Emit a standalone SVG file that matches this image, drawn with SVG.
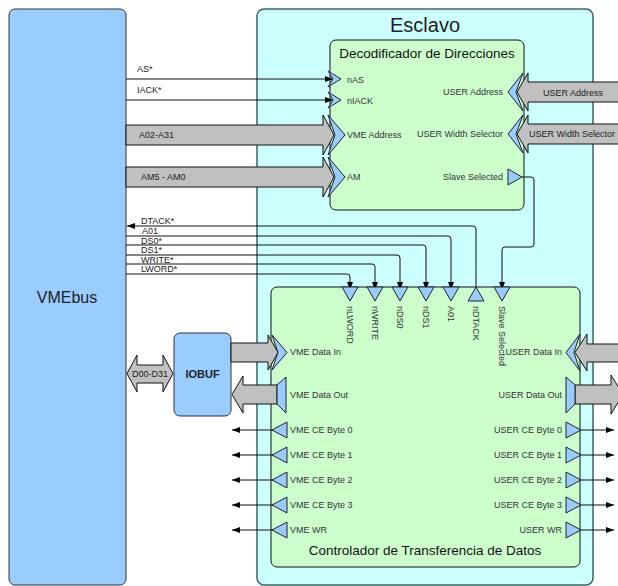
<svg xmlns="http://www.w3.org/2000/svg" width="618" height="586" viewBox="0 0 618 586">
<style>
text{font-family:"Liberation Sans",Arial,sans-serif;fill:#222}
.s{font-size:9px}
.p{font-size:9px;fill:#333}
.t{font-size:13.5px;fill:#111}
.ln{fill:none;stroke:#111;stroke-width:1}
.bus{fill:#c0c0c0;stroke:#111;stroke-width:1}
.port{fill:#99ccff;stroke:#223;stroke-width:1}
</style>
<defs>
<marker id="ah" viewBox="0 0 8 6" refX="8" refY="3" markerWidth="8" markerHeight="6" orient="auto" markerUnits="userSpaceOnUse"><path d="M0,0 L8,3 L0,6 Z" fill="#000"/></marker>
</defs>
<rect width="618" height="586" fill="#fff"/>

<g id="vmebus">
<rect x="9" y="9" width="117" height="576" rx="6" fill="#99ccff" stroke="#333"/>
<text x="67" y="303" text-anchor="middle" font-size="16">VMEbus</text>
</g>

<g id="esclavo">
<rect x="257" y="9" width="336" height="576" rx="7" fill="#ccffff" stroke="#3c6464" stroke-width="1.5"/>
<text x="425" y="32" text-anchor="middle" font-size="20" fill="#111">Esclavo</text>
</g>

<g id="decodificador">
<rect x="330" y="40" width="194" height="170" rx="6" fill="#ccffcc" stroke="#111"/>
<text class="t" x="427" y="58" text-anchor="middle">Decodificador de Direcciones</text>
<text class="p" x="347" y="83">nAS</text>
<text class="p" x="347" y="104">nIACK</text>
<text class="p" x="347" y="138">VME Address</text>
<text class="p" x="347" y="180">AM</text>
<text class="p" x="503" y="95" text-anchor="end">USER Address</text>
<text class="p" x="503" y="137" text-anchor="end">USER Width Selector</text>
<text class="p" x="503" y="180" text-anchor="end">Slave Selected</text>
</g>

<g id="controlador">
<rect x="271" y="287" width="309" height="280" rx="6" fill="#ccffcc" stroke="#111"/>
<text class="t" x="425" y="555" text-anchor="middle">Controlador de Transferencia de Datos</text>
<text class="p" x="290" y="355">VME Data In</text>
<text class="p" x="290" y="398">VME Data Out</text>
<text class="p" x="562" y="355" text-anchor="end">USER Data In</text>
<text class="p" x="562" y="398" text-anchor="end">USER Data Out</text>
<text class="p" x="290" y="433">VME CE Byte 0</text>
<text class="p" x="290" y="458">VME CE Byte 1</text>
<text class="p" x="290" y="483">VME CE Byte 2</text>
<text class="p" x="290" y="508">VME CE Byte 3</text>
<text class="p" x="290" y="533">VME WR</text>
<text class="p" x="562" y="433" text-anchor="end">USER CE Byte 0</text>
<text class="p" x="562" y="458" text-anchor="end">USER CE Byte 1</text>
<text class="p" x="562" y="483" text-anchor="end">USER CE Byte 2</text>
<text class="p" x="562" y="508" text-anchor="end">USER CE Byte 3</text>
<text class="p" x="562" y="533" text-anchor="end">USER WR</text>
<text class="p" transform="translate(346.5,306) rotate(90)">nLWORD</text>
<text class="p" transform="translate(371.5,306) rotate(90)">nWRITE</text>
<text class="p" transform="translate(396.5,306) rotate(90)">nDS0</text>
<text class="p" transform="translate(422.5,306) rotate(90)">nDS1</text>
<text class="p" transform="translate(447.5,306) rotate(90)">A01</text>
<text class="p" transform="translate(472.5,306) rotate(90)">nDTACK</text>
<text class="p" transform="translate(498.5,306) rotate(90)">Slave Selected</text>
</g>

<g id="iobuf">
<rect x="174" y="333" width="57" height="83" rx="6" fill="#99ccff" stroke="#333"/>
<text x="202.5" y="378" text-anchor="middle" font-size="11" font-weight="bold">IOBUF</text>
</g>

<g id="connectors">
<!-- single signals to decoder -->
<path class="ln" d="M126,79 H333" marker-end="url(#ah)"/>
<path class="ln" d="M126,100 H333" marker-end="url(#ah)"/>
<!-- buses -->
<path class="bus" d="M126,125 H323 V115 L334,135 L323,155 V145 H126 Z"/>
<path class="bus" d="M126,167 H323 V157 L334,177 L323,197 V187 H126 Z"/>
<path class="bus" d="M622,82 H528 V73 L517,92 L528,111 V102 H622 Z"/>
<path class="bus" d="M622,124 H528 V115 L517,134 L528,153 V144 H622 Z"/>
<path class="bus" d="M231,343 H268 V335 L278,352.5 L268,370 V362 H231 Z"/>
<path class="bus" d="M277,385 H243 V376 L232,394.5 L243,413 V404 H277 Z"/>
<path class="bus" d="M622,344 H587 V334 L575,352.5 L587,371 V362 H622 Z"/>
<path class="bus" d="M575,385 H611 V375 L623,394.5 L611,414 V404 H575 Z"/>
<path class="bus" d="M127,373.5 L137,355 V365 H163 V355 L173,373.5 L163,392 V383 H137 V392 Z"/>
<!-- slave selected link -->
<path class="ln" d="M522,177 H531 Q534,177 534,180 V244 Q534,247 531,247 H505 Q502,247 502,250 V290" marker-end="url(#ah)"/>
<!-- VME control lines -->
<path class="ln" d="M476,288 V229 Q476,226 473,226 H127" marker-end="url(#ah)"/>
<path class="ln" d="M126,236 H448 Q451,236 451,239 V290" marker-end="url(#ah)"/>
<path class="ln" d="M126,245 H423 Q426,245 426,248 V290" marker-end="url(#ah)"/>
<path class="ln" d="M126,255 H397 Q400,255 400,258 V290" marker-end="url(#ah)"/>
<path class="ln" d="M126,264 H372 Q375,264 375,267 V290" marker-end="url(#ah)"/>
<path class="ln" d="M126,274 H347 Q350,274 350,277 V290" marker-end="url(#ah)"/>
<!-- CE / WR outputs -->
<path class="ln" d="M287,430 H232" marker-end="url(#ah)"/>
<path class="ln" d="M287,455 H232" marker-end="url(#ah)"/>
<path class="ln" d="M287,480 H232" marker-end="url(#ah)"/>
<path class="ln" d="M287,505 H232" marker-end="url(#ah)"/>
<path class="ln" d="M287,530 H232" marker-end="url(#ah)"/>
<path class="ln" d="M566,430 H614" marker-end="url(#ah)"/>
<path class="ln" d="M566,455 H614" marker-end="url(#ah)"/>
<path class="ln" d="M566,480 H614" marker-end="url(#ah)"/>
<path class="ln" d="M566,505 H614" marker-end="url(#ah)"/>
<path class="ln" d="M566,530 H614" marker-end="url(#ah)"/>
</g>

<g id="ports">
<polygon class="port" points="328,71 341,79 328,87 333,79"/>
<polygon class="port" points="328,92 341,100 328,108 333,100"/>
<polygon class="port" points="328,115 345,135 328,155 335,135"/>
<polygon class="port" points="328,157 345,177 328,197 335,177"/>
<polygon class="port" points="508,92 523,73 516,92 523,111"/>
<polygon class="port" points="508,134 523,115 516,134 523,153"/>
<polygon class="port" points="508,169 522,177 508,185"/>
<polygon class="port" points="342,287 358,287 350,301"/>
<polygon class="port" points="367,287 383,287 375,301"/>
<polygon class="port" points="392,287 408,287 400,301"/>
<polygon class="port" points="418,287 434,287 426,301"/>
<polygon class="port" points="443,287 459,287 451,301"/>
<polygon class="port" points="468,301 484,301 476,287"/>
<polygon class="port" points="494,287 510,287 502,301"/>
<polygon class="port" points="272,335 287,352.5 272,370 278,352.5"/>
<polygon class="port" points="286,377 286,413 277,404 277,385"/>
<polygon class="port" points="566,352.5 580,334 574,352.5 580,371"/>
<polygon class="port" points="566,377 566,413 575,404 575,385"/>
<polygon class="port" points="272,430 287,422 287,438"/>
<polygon class="port" points="272,455 287,447 287,463"/>
<polygon class="port" points="272,480 287,472 287,488"/>
<polygon class="port" points="272,505 287,497 287,513"/>
<polygon class="port" points="272,530 287,522 287,538"/>
<polygon class="port" points="566,422 581,430 566,438"/>
<polygon class="port" points="566,447 581,455 566,463"/>
<polygon class="port" points="566,472 581,480 566,488"/>
<polygon class="port" points="566,497 581,505 566,513"/>
<polygon class="port" points="566,522 581,530 566,538"/>
</g>

<g id="labels">
<text class="s" x="137" y="72">AS*</text>
<text class="s" x="137" y="93">IACK*</text>
<text class="s" x="139" y="138">A02-A31</text>
<text class="s" x="141" y="180">AM5 - AM0</text>
<text class="s" x="573" y="96" text-anchor="middle">USER Address</text>
<text class="s" x="572" y="137" text-anchor="middle">USER Width Selector</text>
<text class="s" x="150" y="377" text-anchor="middle">D00-D31</text>
<text class="s" x="141" y="224">DTACK*</text>
<text class="s" x="142" y="234">A01</text>
<text class="s" x="141" y="244">DS0*</text>
<text class="s" x="141" y="253">DS1*</text>
<text class="s" x="141" y="263">WRITE*</text>
<text class="s" x="141" y="272">LWORD*</text>
</g>
</svg>
